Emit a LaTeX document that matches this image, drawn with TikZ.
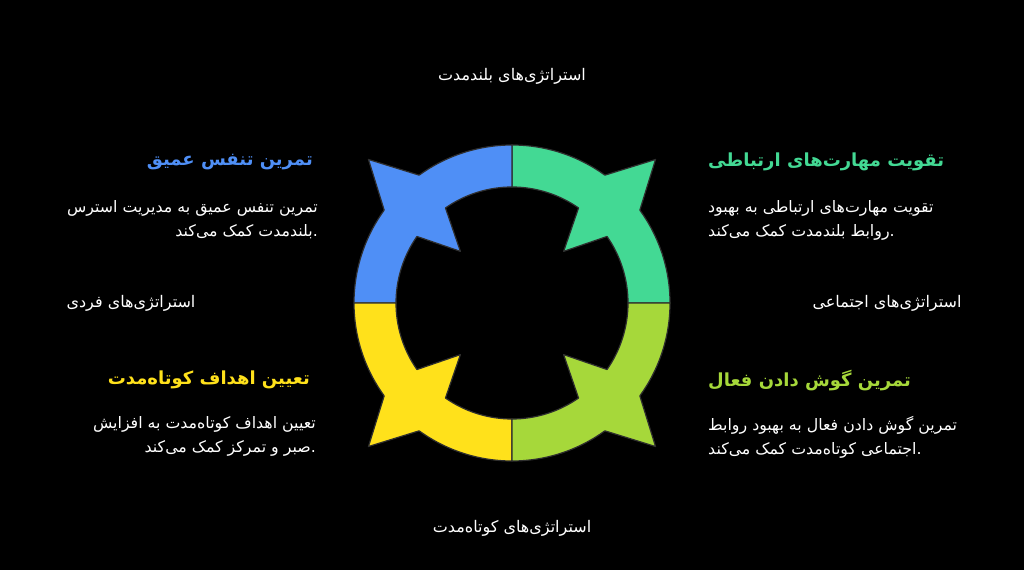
\documentclass[tikz,border=0pt]{standalone}
\usepackage{fontspec}
\usetikzlibrary{positioning}
\TeXXeTstate=1
\newfontfamily\arabicfont[Script=Arabic]{DejaVu Sans}
\definecolor{qblue}{HTML}{4F8FF6}
\definecolor{qgreen}{HTML}{43D994}
\definecolor{qlime}{HTML}{A6D83A}
\definecolor{qyellow}{HTML}{FFE11B}
\definecolor{edgegray}{HTML}{2E2E2E}
\tikzset{quad/.style={draw=edgegray, line width=1.2pt, line join=round}}
\tikzset{axis/.style={inner sep=0pt, text=white, font=\arabicfont\fontsize{16}{18}\selectfont}}
\tikzset{head/.style={inner sep=0pt, font=\arabicfont\bfseries\fontsize{18}{21}\selectfont}}
\tikzset{body/.style={inner sep=0pt, text=white, font=\arabicfont\fontsize{15.8}{24}\selectfont}}
\newcommand\ringpart[2]{%
\filldraw[quad, fill=#1] ([shift={(c)}]#2:158pt) arc[start angle=#2, end angle=#2+36, radius=158pt]
 -- ([shift={(c)}]#2+45:203pt) -- ([shift={(c)}]#2+54:158pt)
 arc[start angle=#2+54, end angle=#2+90, radius=158pt]
 -- ([shift={(c)}]#2+90:116pt)
 arc[start angle=#2+90, end angle=#2+55, radius=116pt]
 -- ([shift={(c)}]#2+45:73pt) -- ([shift={(c)}]#2+35:116pt)
 arc[start angle=#2+35, end angle=#2, radius=116pt] -- cycle;}

\begin{document}
\begin{tikzpicture}[x=1pt, y=1pt]
	\fill[black] (0,0) rectangle (1024,570);
	\useasboundingbox (0,0) rectangle (1024,570);
	\coordinate (c) at (512,267);
	\ringpart{qgreen}{0}
	\ringpart{qblue}{90}
	\ringpart{qyellow}{180}
	\ringpart{qlime}{270}
	\node [axis] (long) at (512,494) {\beginR استراتژی‌های بلندمدت\endR};
	\node [axis] (short) at (512,42) {\beginR استراتژی‌های کوتاه‌مدت\endR};
	\node [axis] (self) at (131,267) {\beginR استراتژی‌های فردی\endR};
	\node [axis] (social) at (887,267) {\beginR استراتژی‌های اجتماعی\endR};
	\node [head, text=qblue, anchor=east] (breathT) at (313,408) {\beginR تمرین تنفس عمیق\endR};
	\node [body, anchor=east, align=right] (breathB) at (318,350) {\beginR تمرین تنفس عمیق به مدیریت استرس\endR\\\beginR بلندمدت کمک می‌کند\endR.};
	\node [head, text=qgreen, anchor=west] (commT) at (708,408) {\beginR تقویت مهارت‌های ارتباطی\endR};
	\node [body, anchor=west, align=left] (commB) at (708,350) {\beginR تقویت مهارت‌های ارتباطی به بهبود\endR\\\beginR روابط بلندمدت کمک می‌کند\endR.};
	\node [head, text=qyellow, anchor=east] (goalT) at (310,190) {\beginR تعیین اهداف کوتاه‌مدت\endR};
	\node [body, anchor=east, align=right] (goalB) at (316,134) {\beginR تعیین اهداف کوتاه‌مدت به افزایش\endR\\\beginR صبر و تمرکز کمک می‌کند\endR.};
	\node [head, text=qlime, anchor=west] (listenT) at (708,189) {\beginR تمرین گوش دادن فعال\endR};
	\node [body, anchor=west, align=left] (listenB) at (708,133) {\beginR تمرین گوش دادن فعال به بهبود روابط\endR\\\beginR اجتماعی کوتاه‌مدت کمک می‌کند\endR.};
\end{tikzpicture}
\end{document}
